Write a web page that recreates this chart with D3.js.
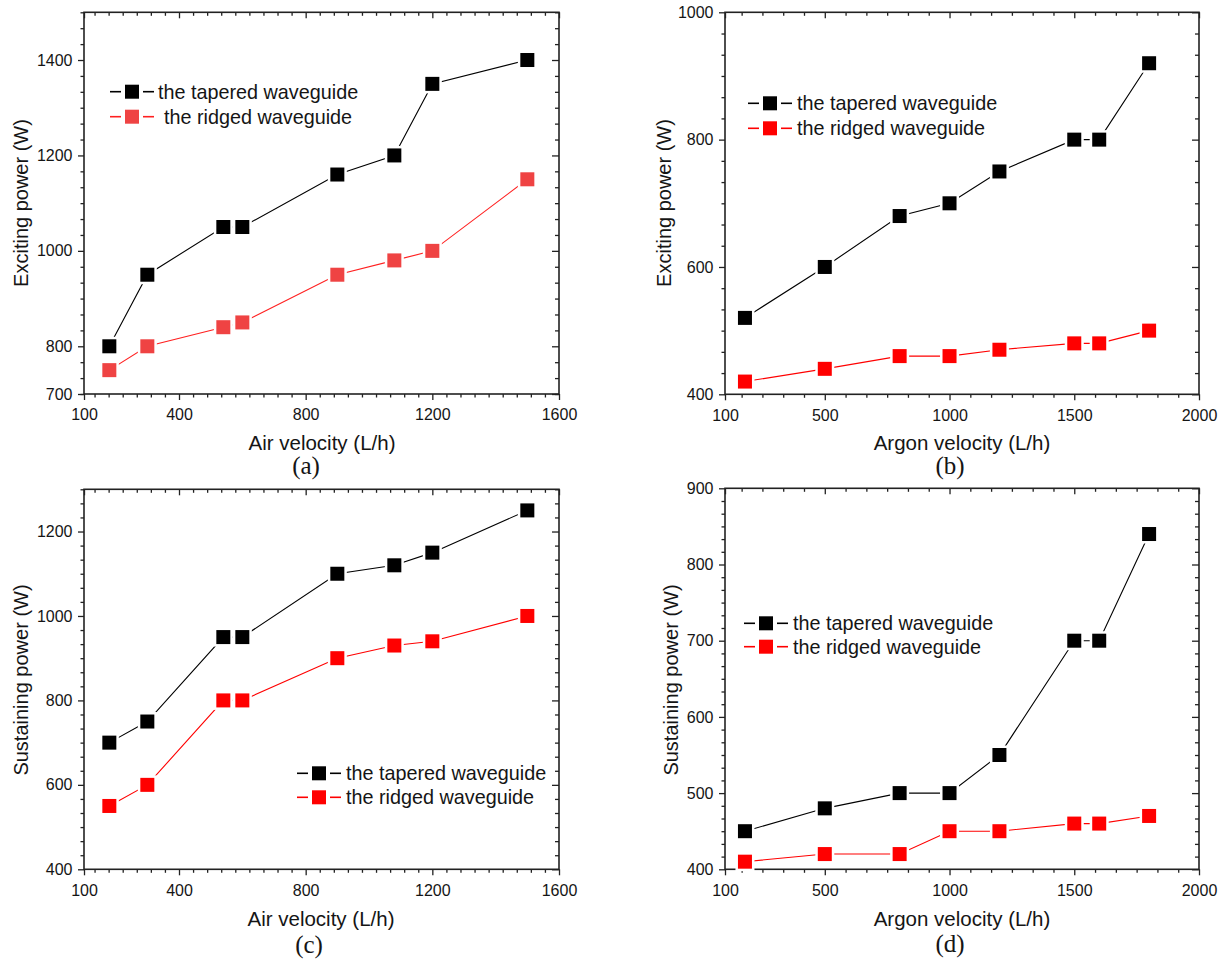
<!DOCTYPE html>
<html>
<head>
<meta charset="utf-8">
<script src="https://cdn.jsdelivr.net/npm/d3@7"></script>
<style>
  html, body { margin: 0; padding: 0; background: #fff; }
  svg { display: block; }
  text { font-family: "Liberation Sans", Arial, sans-serif; fill: #151515; }
</style>
</head>
<body>
<svg id="chart" width="1223" height="962"></svg>
<script>
// ---------- data ----------
const airVelocity   = [180, 300, 540, 600, 900, 1080, 1200, 1500];
const argonVelocity = [180, 500, 800, 1000, 1200, 1500, 1600, 1800];

const excitingAirTapered   = [800, 950, 1050, 1050, 1160, 1200, 1350, 1400];
const excitingAirRidged    = [750, 800, 840, 850, 950, 980, 1000, 1150];
const excitingArgonTapered = [520, 600, 680, 700, 750, 800, 800, 920];
const excitingArgonRidged  = [420, 440, 460, 460, 470, 480, 480, 500];

const sustainingAirTapered   = [700, 750, 950, 950, 1100, 1120, 1150, 1250];
const sustainingAirRidged    = [550, 600, 800, 800, 900, 930, 940, 1000];
const sustainingArgonTapered = [450, 480, 500, 500, 550, 700, 700, 840];
const sustainingArgonRidged  = [410, 420, 420, 450, 450, 460, 460, 470];

const airTicks   = [100, 400, 800, 1200, 1600];
const argonTicks = [100, 500, 1000, 1500, 2000];
const excitingAirTicks    = [700, 800, 1000, 1200, 1400];
const excitingArgonTicks  = [400, 600, 800, 1000];
const sustainingAirTicks  = [400, 600, 800, 1000, 1200];
const sustainingArgonTicks = [400, 500, 600, 700, 800, 900];

const seriesNames = ["the tapered waveguide", "the ridged waveguide"];

// ---------- layout ----------
const panels = [
  { box: [84, 12.3, 559, 394], xDomain: [100, 1600], yDomain: [700, 1500],
    xTicks: airTicks, xStep: 400, xDiv: 9, yTicks: excitingAirTicks, yStep: 200, yDiv: 6,
    xs: airVelocity, tapered: excitingAirTapered, ridged: excitingAirRidged,
    ridgedMarker: "#ef4343", ridgedLine: "#ff2020",
    xTitle: "Air  velocity (L/h)", xTitlePos: [322, 450],
    yTitle: "Exciting power (W)", yTitlePos: [21, 203],
    label: "(a)", labelPos: [306, 474],
    legend: { x: 110, y: [91.7, 116.7], textX: [158, 164] } },
  { box: [725, 12.3, 1199, 394.3], xDomain: [100, 2000], yDomain: [400, 1000],
    xTicks: argonTicks, xStep: 500, xDiv: 6, yTicks: excitingArgonTicks, yStep: 200, yDiv: 6,
    xs: argonVelocity, tapered: excitingArgonTapered, ridged: excitingArgonRidged,
    ridgedMarker: "#ff0000", ridgedLine: "#ff0000",
    xTitle: "Argon velocity (L/h)", xTitlePos: [962, 450],
    yTitle: "Exciting power (W)", yTitlePos: [664, 203],
    label: "(b)", labelPos: [950, 474],
    legend: { x: 748, y: [103.3, 128.3], textX: [797, 797] } },
  { box: [84, 489.3, 559, 869.3], xDomain: [100, 1600], yDomain: [400, 1300],
    xTicks: airTicks, xStep: 400, xDiv: 9, yTicks: sustainingAirTicks, yStep: 200, yDiv: 6,
    xs: airVelocity, tapered: sustainingAirTapered, ridged: sustainingAirRidged,
    ridgedMarker: "#ff0000", ridgedLine: "#ff0000",
    xTitle: "Air velocity (L/h)", xTitlePos: [321, 926],
    yTitle: "Sustaining power (W)", yTitlePos: [21, 680],
    label: "(c)", labelPos: [309, 953],
    legend: { x: 297, y: [773.3, 797.3], textX: [346, 346] } },
  { box: [725, 488.3, 1199, 869.3], xDomain: [100, 2000], yDomain: [400, 900],
    xTicks: argonTicks, xStep: 500, xDiv: 6, yTicks: sustainingArgonTicks, yStep: 100, yDiv: 6,
    xs: argonVelocity, tapered: sustainingArgonTapered, ridged: sustainingArgonRidged,
    ridgedMarker: "#ff0000", ridgedLine: "#ff0000",
    xTitle: "Argon  velocity (L/h)", xTitlePos: [962, 926],
    yTitle: "Sustaining power (W)", yTitlePos: [671, 680],
    label: "(d)", labelPos: [950, 952],
    legend: { x: 744, y: [623.3, 646.7], textX: [793, 793] } }
];

const svg = d3.select("#chart");
const AXIS = "#222";
const MS = 14; // marker size

function minorValues(domain, step, div) {
  const m = step / div;
  const out = [];
  const k0 = Math.ceil(domain[0] / m - 1e-9), k1 = Math.floor(domain[1] / m + 1e-9);
  for (let k = k0; k <= k1; k++) {
    const v = k * m;
    if (Math.abs(v / step - Math.round(v / step)) > 1e-6) out.push(v);
  }
  return out;
}

panels.forEach(p => {
  const [L, T, R, B] = p.box;
  const x = d3.scaleLinear().domain(p.xDomain).range([L, R]);
  const y = d3.scaleLinear().domain(p.yDomain).range([B, T]);
  const g = svg.append("g");

  const xMinor = minorValues(p.xDomain, p.xStep, p.xDiv);
  const yMinor = minorValues(p.yDomain, p.yStep, p.yDiv);

  const bottom = g.append("g").attr("transform", `translate(0,${B})`)
    .call(d3.axisBottom(x).tickValues(p.xTicks).tickSize(6).tickPadding(9)
      .tickFormat(d3.format("d")));
  const bottomMinor = g.append("g").attr("transform", `translate(0,${B})`)
    .call(d3.axisBottom(x).tickValues(xMinor).tickSize(3.5).tickFormat(""));
  const top = g.append("g").attr("transform", `translate(0,${T})`)
    .call(d3.axisBottom(x).tickValues(p.xTicks).tickSize(6).tickFormat(""));
  const topMinor = g.append("g").attr("transform", `translate(0,${T})`)
    .call(d3.axisBottom(x).tickValues(xMinor).tickSize(3.5).tickFormat(""));
  const left = g.append("g").attr("transform", `translate(${L},0)`)
    .call(d3.axisLeft(y).tickValues(p.yTicks).tickSize(6).tickPadding(5.5)
      .tickFormat(d3.format("d")));
  const leftMinor = g.append("g").attr("transform", `translate(${L},0)`)
    .call(d3.axisLeft(y).tickValues(yMinor).tickSize(3.5).tickFormat(""));
  const right = g.append("g").attr("transform", `translate(${R},0)`)
    .call(d3.axisLeft(y).tickValues(p.yTicks).tickSize(7).tickFormat(""));
  const rightMinor = g.append("g").attr("transform", `translate(${R},0)`)
    .call(d3.axisLeft(y).tickValues(yMinor).tickSize(4).tickFormat(""));

  [bottom, bottomMinor, top, topMinor, left, leftMinor, right, rightMinor].forEach(a => {
    a.select(".domain").remove();
    a.selectAll("line").attr("stroke", AXIS).attr("stroke-width", 1.3);
    a.selectAll("text").style("font-size", "16px").attr("fill", "#151526");
  });

  g.append("rect").attr("x", L).attr("y", T).attr("width", R - L).attr("height", B - T)
    .attr("fill", "none").attr("stroke", AXIS).attr("stroke-width", 1.6);

  const series = [
    { vals: p.tapered, line: "#000", marker: "#000" },
    { vals: p.ridged, line: p.ridgedLine, marker: p.ridgedMarker }
  ];
  const lineGen = d3.line().x(d => x(d[0])).y(d => y(d[1]));
  series.forEach(s => {
    const pts = p.xs.map((v, i) => [v, s.vals[i]]);
    g.append("path").datum(pts).attr("d", lineGen)
      .attr("fill", "none").attr("stroke", s.line).attr("stroke-width", 1.1);
  });
  series.forEach(s => {
    const pts = p.xs.map((v, i) => [v, s.vals[i]]);
    g.selectAll(null).data(pts).enter().append("rect")
      .attr("x", d => x(d[0]) - MS / 2).attr("y", d => y(d[1]) - MS / 2)
      .attr("width", MS).attr("height", MS)
      .attr("fill", s.marker).attr("stroke", "#fff").attr("stroke-width", 5)
      .attr("paint-order", "stroke");
  });

  const lg = g.append("g");
  series.forEach((s, i) => {
    const cy = p.legend.y[i], lx = p.legend.x;
    lg.append("line").attr("x1", lx).attr("x2", lx + 11).attr("y1", cy).attr("y2", cy)
      .attr("stroke", s.line).attr("stroke-width", 1.6);
    lg.append("rect").attr("x", lx + 15).attr("y", cy - MS / 2).attr("width", MS).attr("height", MS)
      .attr("fill", s.marker);
    lg.append("line").attr("x1", lx + 33).attr("x2", lx + 44).attr("y1", cy).attr("y2", cy)
      .attr("stroke", s.line).attr("stroke-width", 1.6);
    lg.append("text").attr("x", p.legend.textX[i]).attr("y", cy)
      .attr("dominant-baseline", "central").style("font-size", "19.8px")
      .attr("fill", "#151526").text(seriesNames[i]);
  });

  g.append("text").attr("x", p.xTitlePos[0]).attr("y", p.xTitlePos[1])
    .attr("text-anchor", "middle").style("font-size", "20.5px").attr("fill", "#151526")
    .text(p.xTitle);
  g.append("text").attr("transform", `translate(${p.yTitlePos[0]},${p.yTitlePos[1]}) rotate(-90)`)
    .attr("text-anchor", "middle").attr("dominant-baseline", "central")
    .style("font-size", "20px").attr("fill", "#151526").text(p.yTitle);
  g.append("text").attr("x", p.labelPos[0]).attr("y", p.labelPos[1])
    .attr("text-anchor", "middle")
    .style("font-family", "'Liberation Serif', 'Times New Roman', serif")
    .style("font-size", "25px").attr("fill", "#000").text(p.label);
});
</script>
</body>
</html>
